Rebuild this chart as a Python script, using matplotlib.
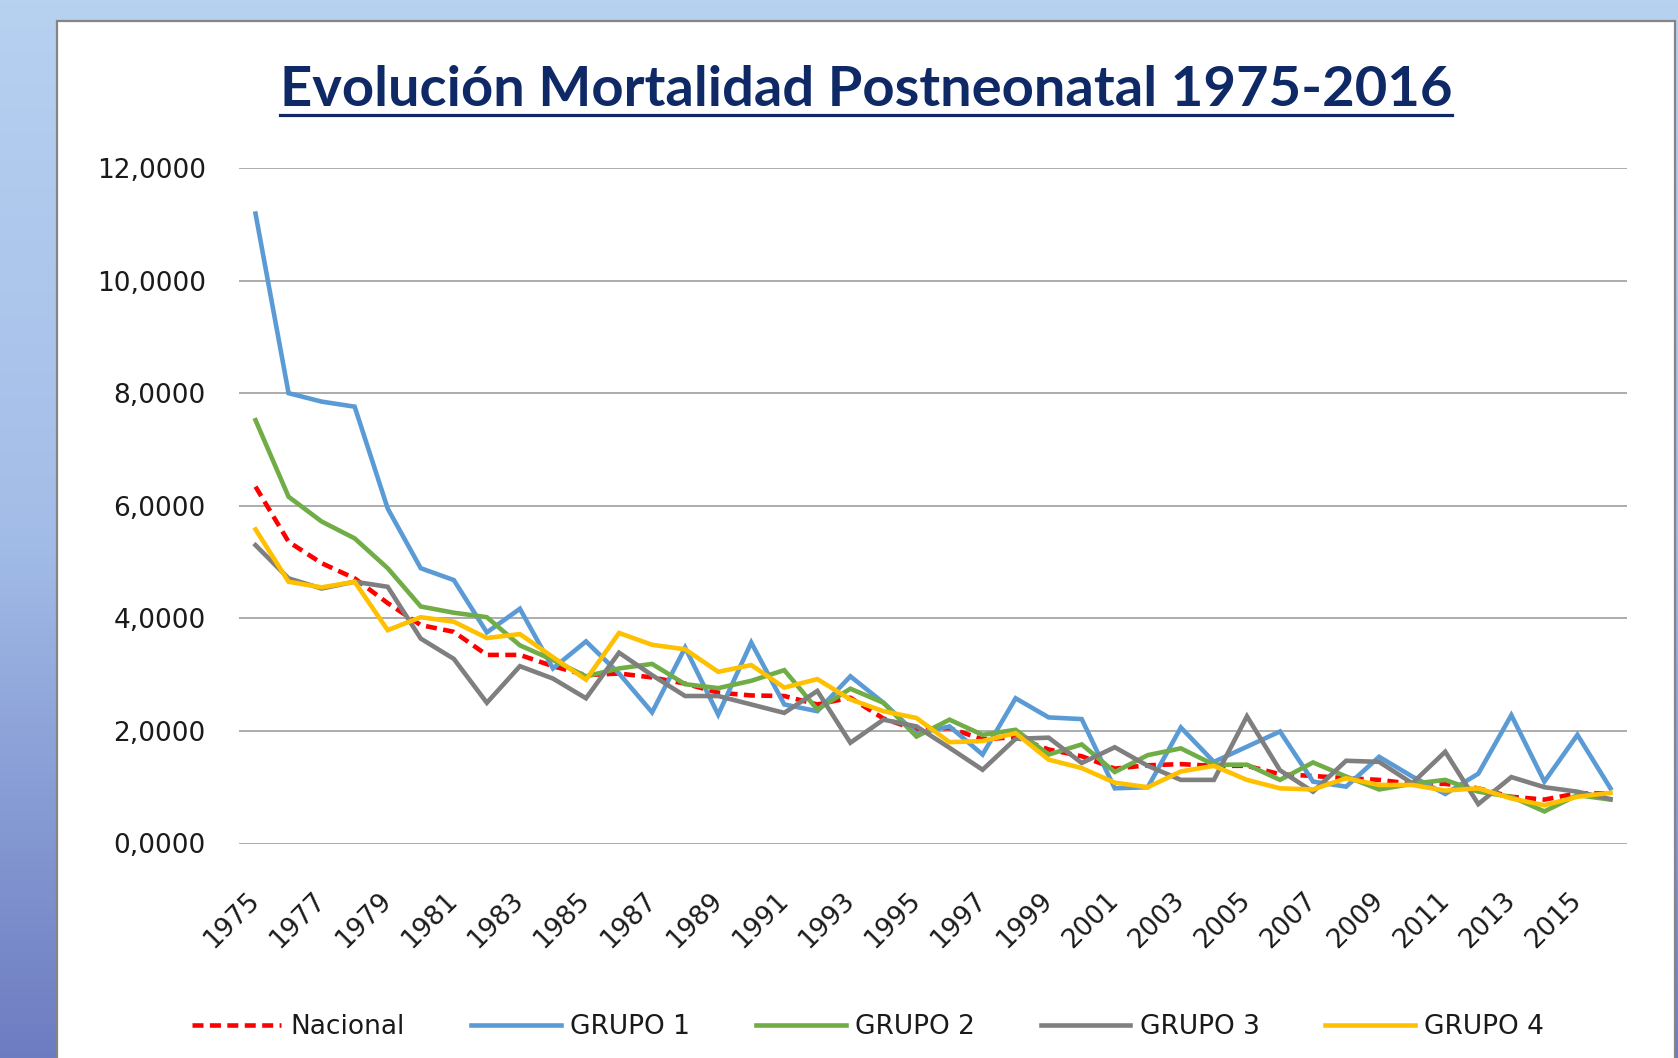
import numpy as np
import matplotlib
matplotlib.use("Agg")
import matplotlib.pyplot as plt
from matplotlib.ticker import FuncFormatter
from matplotlib.patches import Rectangle
from matplotlib.lines import Line2D
from matplotlib.colors import LinearSegmentedColormap

# ---------------- data ----------------
years = list(range(1975, 2017))
nacional = [6.34, 5.36, 4.98, 4.71, 4.27, 3.88, 3.76, 3.35, 3.35, 3.15,
            2.99, 3.02, 2.95, 2.84, 2.68, 2.63, 2.62, 2.47, 2.59, 2.22,
            2.02, 2.05, 1.85, 1.89, 1.67, 1.55, 1.33, 1.39, 1.41, 1.38,
            1.38, 1.23, 1.20, 1.16, 1.13, 1.06, 1.06, 0.98, 0.83, 0.78,
            0.89, 0.89]
grupo1 = [11.19, 8.00, 7.85, 7.76, 5.95, 4.89, 4.68, 3.75, 4.17, 3.11,
          3.59, 3.02, 2.33, 3.48, 2.29, 3.57, 2.47, 2.35, 2.97, 2.50,
          1.95, 2.08, 1.58, 2.58, 2.24, 2.21, 0.98, 1.00, 2.06, 1.45,
          1.72, 1.99, 1.10, 1.01, 1.54, 1.19, 0.88, 1.24, 2.28, 1.10,
          1.93, 0.98]
grupo2 = [7.52, 6.16, 5.72, 5.42, 4.89, 4.21, 4.10, 4.02, 3.52, 3.26,
          2.97, 3.11, 3.19, 2.83, 2.76, 2.89, 3.08, 2.38, 2.75, 2.50,
          1.90, 2.20, 1.93, 2.02, 1.58, 1.76, 1.27, 1.57, 1.69, 1.40,
          1.40, 1.13, 1.44, 1.19, 0.96, 1.06, 1.13, 0.92, 0.83, 0.57,
          0.86, 0.78]
grupo3 = [5.30, 4.71, 4.53, 4.65, 4.56, 3.64, 3.28, 2.50, 3.15, 2.93,
          2.58, 3.39, 2.99, 2.62, 2.62, 2.47, 2.32, 2.71, 1.79, 2.20,
          2.08, 1.70, 1.31, 1.86, 1.88, 1.43, 1.71, 1.38, 1.13, 1.13,
          2.26, 1.30, 0.92, 1.47, 1.45, 1.07, 1.63, 0.70, 1.18, 1.00,
          0.92, 0.79]
grupo4 = [5.58, 4.65, 4.55, 4.65, 3.79, 4.02, 3.94, 3.65, 3.72, 3.31,
          2.91, 3.74, 3.53, 3.45, 3.05, 3.17, 2.77, 2.92, 2.56, 2.35,
          2.23, 1.80, 1.82, 1.96, 1.49, 1.34, 1.08, 1.00, 1.28, 1.38,
          1.13, 0.98, 0.96, 1.16, 1.04, 1.04, 0.94, 0.98, 0.80, 0.68,
          0.83, 0.90]
series_names = ["Nacional", "GRUPO 1", "GRUPO 2", "GRUPO 3", "GRUPO 4"]
title = "Evolución Mortalidad Postneonatal 1975-2016"

# ---------------- figure ----------------
W, H = 1678, 1058
fig = plt.figure(figsize=(W / 100, H / 100), dpi=100)

# slide-like gradient background
bg = fig.add_axes([0, 0, 1, 1], zorder=-10)
grad = np.linspace(0, 1, 256).reshape(-1, 1)
cmap = LinearSegmentedColormap.from_list("bg", ["#b7d1f1", "#a3bde8", "#6d7cc1"])
bg.imshow(grad, aspect="auto", cmap=cmap, extent=[0, 1, 0, 1], origin="upper")
bg.set_axis_off()

# white chart panel
fig.patches.append(Rectangle((57 / W, -0.01), (1675 - 57) / W, (H - 20.5) / H + 0.01,
                             transform=fig.transFigure, facecolor="white",
                             edgecolor="#858585", linewidth=1.6, zorder=-5))

ax = fig.add_axes([239 / W, 1 - 843.5 / H, (1627 - 239) / W, (843.5 - 168) / H])
ax.set_facecolor("none")
x = np.arange(len(years))

colors = ["#ff0000", "#5b9bd5", "#70ad47", "#7f7f7f", "#ffc000"]
data = [nacional, grupo1, grupo2, grupo3, grupo4]
handles = []
for name, vals, c in zip(series_names, data, colors):
    if name == "Nacional":
        ln, = ax.plot(x, vals, color=c, lw=3.3, ls=(0, (2.4, 1.4)), label=name)
    else:
        ln, = ax.plot(x, vals, color=c, lw=3.3, label=name, solid_joinstyle="miter")
    handles.append(ln)

ax.set_xlim(-0.5, len(years) - 0.5)
ax.set_ylim(0, 12)
ax.set_yticks(np.arange(0, 13, 2))
ax.yaxis.set_major_formatter(FuncFormatter(lambda v, p: f"{v:.4f}".replace(".", ",")))
ax.grid(axis="y", color="#a6a6a6", lw=1.3)
ax.set_axisbelow(True)
for s in ax.spines.values():
    s.set_visible(False)

ax.set_xticks(x[::2])
ax.set_xticklabels([str(y) for y in years[::2]], rotation=45, ha="right",
                   va="center", rotation_mode="anchor")
ax.tick_params(axis="x", length=0, pad=38, labelsize=19, labelcolor="#1a1a1a")
ax.tick_params(axis="y", length=0, pad=24, labelsize=19, labelcolor="#1a1a1a")

# legend
leg = fig.legend(handles=handles, labels=series_names, loc="center",
                 bbox_to_anchor=(868 / W, 1 - 1027 / H), ncol=5, frameon=False,
                 fontsize=19, handlelength=3.4, handletextpad=0.35,
                 columnspacing=2.5)
for t in leg.get_texts():
    t.set_color("#1a1a1a")

# title with underline
navy = "#0f2966"
tt = fig.text(866 / W, 1 - 106.5 / H, title, ha="center", va="baseline",
              fontsize=40, fontweight="bold", family="Lato", color=navy)
fig.canvas.draw()
r = fig.canvas.get_renderer()
bb = tt.get_window_extent(r)
tt.set_fontsize(40 * 1174 / bb.width)
fig.canvas.draw()
bb = tt.get_window_extent(r)
fig.add_artist(Line2D([bb.x0 / W, bb.x1 / W], [1 - 115 / H, 1 - 115 / H],
                      transform=fig.transFigure, color=navy, lw=2.3))

fig.savefig("out.png", dpi=100)
